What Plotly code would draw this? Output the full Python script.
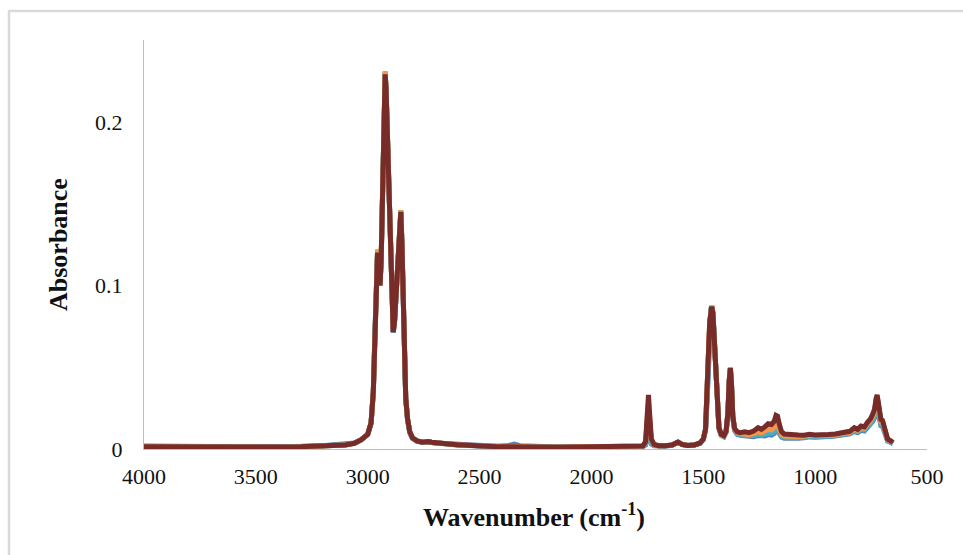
import plotly.graph_objects as go

# Wavenumber grid (cm-1), high to low
wavenumber = [
    # 4000-3100 baseline
    4000, 3900, 3800, 3700, 3600, 3500, 3400, 3300, 3200, 3100,
    # C-H stretching region
    3060, 3030, 3000, 2985, 2975, 2968, 2962, 2956, 2950, 2945,
    2940, 2934, 2928, 2922, 2918, 2912, 2906, 2900, 2894, 2886,
    2880, 2874, 2868, 2862, 2857, 2852, 2847, 2842, 2836, 2830,
    2822, 2812, 2800, 2780, 2755, 2730, 2715, 2700,
    # 2700-1790
    2660, 2600, 2540, 2480, 2420, 2370, 2345, 2320, 2250, 2150,
    2050, 1950, 1850, 1790,
    # carbonyl region
    1770, 1758, 1750, 1745, 1740, 1732, 1720, 1700, 1670, 1640,
    1613, 1595, 1570, 1540, 1515,
    # C-H bending region
    1500, 1490, 1483, 1477, 1471, 1466, 1462, 1457, 1451, 1445,
    1438, 1430, 1420, 1408, 1398, 1390, 1384, 1379, 1374, 1368,
    1360, 1348, 1335,
    # fingerprint 1315-910
    1315, 1295, 1275, 1255, 1240, 1225, 1210, 1195, 1183, 1175,
    1168, 1160, 1150, 1138, 1120, 1100, 1075, 1050, 1025, 1000,
    970, 940, 910,
    # 885-652
    885, 865, 845, 825, 810, 795, 780, 765, 752, 742,
    734, 728, 723, 718, 713, 706, 699, 692, 684, 676,
    668, 660, 652,
]

absorbance_1 = [
    0.0018, 0.0015, 0.0019, 0.0016, 0.0014, 0.0013, 0.0015, 0.0016, 0.0020, 0.0027,
    0.0036, 0.0056, 0.0088, 0.0155, 0.0345, 0.0695, 0.1048, 0.1210, 0.1085, 0.1004,
    0.1148, 0.1645, 0.2098, 0.2300, 0.2198, 0.1915, 0.1596, 0.1276, 0.0976, 0.0712,
    0.0777, 0.0927, 0.1097, 0.1278, 0.1412, 0.1455, 0.1248, 0.0898, 0.0515, 0.0305,
    0.0180, 0.0100, 0.0065, 0.0048, 0.0040, 0.0044, 0.0040, 0.0037,
    0.0034, 0.0027, 0.0021, 0.0018, 0.0017, 0.0022, 0.0030, 0.0020, 0.0014, 0.0012,
    0.0013, 0.0012, 0.0013, 0.0015,
    0.0017, 0.0025, 0.0075, 0.0100, 0.0070, 0.0030, 0.0020, 0.0018, 0.0019, 0.0023,
    0.0040, 0.0027, 0.0021, 0.0024, 0.0035,
    0.0057, 0.0116, 0.0295, 0.0575, 0.0776, 0.0856, 0.0866, 0.0826, 0.0676, 0.0466,
    0.0256, 0.0125, 0.0083, 0.0074, 0.0102, 0.0212, 0.0412, 0.0488, 0.0392, 0.0190,
    0.0112, 0.0090, 0.0084,
    0.0080, 0.0072, 0.0075, 0.0082, 0.0078, 0.0080, 0.0088, 0.0085, 0.0095, 0.0115,
    0.0112, 0.0090, 0.0072, 0.0066, 0.0064, 0.0064, 0.0066, 0.0068, 0.0074, 0.0072,
    0.0072, 0.0076, 0.0080,
    0.0084, 0.0086, 0.0092, 0.0108, 0.0100, 0.0114, 0.0110, 0.0132, 0.0148, 0.0170,
    0.0192, 0.0230, 0.0250, 0.0222, 0.0172, 0.0142, 0.0138, 0.0104, 0.0060, 0.0048,
    0.0044, 0.0038, 0.0032,
]

absorbance_2 = [
    0.0012, 0.0011, 0.0012, 0.0010, 0.0011, 0.0010, 0.0011, 0.0013, 0.0017, 0.0024,
    0.0034, 0.0054, 0.0089, 0.0158, 0.0348, 0.0702, 0.1055, 0.1220, 0.1086, 0.1003,
    0.1152, 0.1655, 0.2106, 0.2305, 0.2204, 0.1922, 0.1601, 0.1281, 0.0981, 0.0716,
    0.0781, 0.0932, 0.1103, 0.1284, 0.1415, 0.1460, 0.1253, 0.0902, 0.0521, 0.0309,
    0.0183, 0.0103, 0.0066, 0.0049, 0.0040, 0.0045, 0.0040, 0.0037,
    0.0032, 0.0025, 0.0019, 0.0015, 0.0013, 0.0013, 0.0014, 0.0012, 0.0011, 0.0010,
    0.0011, 0.0010, 0.0011, 0.0013,
    0.0018, 0.0033, 0.0128, 0.0180, 0.0122, 0.0042, 0.0024, 0.0019, 0.0020, 0.0024,
    0.0041, 0.0028, 0.0022, 0.0025, 0.0036,
    0.0059, 0.0119, 0.0299, 0.0580, 0.0782, 0.0864, 0.0874, 0.0834, 0.0682, 0.0470,
    0.0258, 0.0128, 0.0087, 0.0079, 0.0107, 0.0218, 0.0418, 0.0496, 0.0399, 0.0197,
    0.0120, 0.0100, 0.0094,
    0.0090, 0.0084, 0.0090, 0.0100, 0.0094, 0.0100, 0.0112, 0.0108, 0.0122, 0.0145,
    0.0142, 0.0112, 0.0084, 0.0076, 0.0074, 0.0073, 0.0075, 0.0076, 0.0082, 0.0079,
    0.0078, 0.0082, 0.0086,
    0.0090, 0.0092, 0.0099, 0.0118, 0.0109, 0.0126, 0.0122, 0.0148, 0.0166, 0.0192,
    0.0218, 0.0268, 0.0290, 0.0256, 0.0196, 0.0160, 0.0156, 0.0117, 0.0068, 0.0054,
    0.0050, 0.0043, 0.0036,
]

absorbance_3 = [
    0.0014, 0.0013, 0.0014, 0.0012, 0.0013, 0.0011, 0.0013, 0.0015, 0.0019, 0.0026,
    0.0035, 0.0055, 0.0090, 0.0159, 0.0349, 0.0698, 0.1046, 0.1195, 0.1077, 0.0998,
    0.1147, 0.1646, 0.2095, 0.2285, 0.2196, 0.1917, 0.1598, 0.1278, 0.0978, 0.0713,
    0.0778, 0.0928, 0.1098, 0.1277, 0.1406, 0.1445, 0.1247, 0.0898, 0.0519, 0.0309,
    0.0184, 0.0104, 0.0067, 0.0050, 0.0041, 0.0046, 0.0041, 0.0038,
    0.0033, 0.0026, 0.0020, 0.0016, 0.0014, 0.0015, 0.0017, 0.0014, 0.0012, 0.0011,
    0.0012, 0.0011, 0.0012, 0.0014,
    0.0018, 0.0038, 0.0168, 0.0240, 0.0162, 0.0050, 0.0026, 0.0020, 0.0020, 0.0024,
    0.0042, 0.0028, 0.0022, 0.0025, 0.0036,
    0.0060, 0.0120, 0.0300, 0.0580, 0.0779, 0.0859, 0.0868, 0.0829, 0.0679, 0.0469,
    0.0259, 0.0129, 0.0089, 0.0081, 0.0109, 0.0219, 0.0419, 0.0494, 0.0399, 0.0199,
    0.0123, 0.0103, 0.0097,
    0.0098, 0.0092, 0.0100, 0.0115, 0.0107, 0.0118, 0.0134, 0.0130, 0.0148, 0.0178,
    0.0174, 0.0132, 0.0096, 0.0085, 0.0081, 0.0079, 0.0080, 0.0080, 0.0086, 0.0083,
    0.0082, 0.0085, 0.0089,
    0.0095, 0.0097, 0.0105, 0.0126, 0.0116, 0.0135, 0.0131, 0.0160, 0.0179, 0.0208,
    0.0237, 0.0294, 0.0318, 0.0280, 0.0212, 0.0174, 0.0169, 0.0126, 0.0072, 0.0058,
    0.0053, 0.0046, 0.0039,
]

absorbance_4 = [
    0.0016, 0.0014, 0.0017, 0.0014, 0.0013, 0.0012, 0.0014, 0.0015, 0.0019, 0.0026,
    0.0036, 0.0056, 0.0089, 0.0157, 0.0346, 0.0697, 0.1049, 0.1205, 0.1082, 0.1001,
    0.1149, 0.1648, 0.2099, 0.2295, 0.2199, 0.1918, 0.1599, 0.1279, 0.0979, 0.0714,
    0.0779, 0.0929, 0.1099, 0.1280, 0.1411, 0.1452, 0.1249, 0.0899, 0.0518, 0.0307,
    0.0182, 0.0102, 0.0066, 0.0049, 0.0040, 0.0045, 0.0040, 0.0037,
    0.0033, 0.0025, 0.0020, 0.0016, 0.0015, 0.0016, 0.0019, 0.0015, 0.0013, 0.0012,
    0.0012, 0.0011, 0.0012, 0.0014,
    0.0017, 0.0030, 0.0100, 0.0140, 0.0095, 0.0036, 0.0022, 0.0019, 0.0019, 0.0023,
    0.0041, 0.0027, 0.0021, 0.0024, 0.0035,
    0.0058, 0.0118, 0.0297, 0.0577, 0.0778, 0.0859, 0.0869, 0.0828, 0.0678, 0.0467,
    0.0257, 0.0126, 0.0085, 0.0076, 0.0104, 0.0214, 0.0414, 0.0490, 0.0394, 0.0192,
    0.0115, 0.0093, 0.0087,
    0.0085, 0.0078, 0.0082, 0.0090, 0.0085, 0.0089, 0.0098, 0.0095, 0.0106, 0.0128,
    0.0125, 0.0100, 0.0078, 0.0071, 0.0069, 0.0068, 0.0070, 0.0072, 0.0078, 0.0075,
    0.0075, 0.0079, 0.0083,
    0.0087, 0.0089, 0.0095, 0.0113, 0.0104, 0.0120, 0.0116, 0.0140, 0.0157, 0.0181,
    0.0205, 0.0250, 0.0270, 0.0239, 0.0184, 0.0151, 0.0147, 0.0110, 0.0064, 0.0051,
    0.0047, 0.0040, 0.0034,
]

absorbance_5 = [
    0.0013, 0.0012, 0.0013, 0.0011, 0.0012, 0.0010, 0.0012, 0.0014, 0.0018, 0.0025,
    0.0035, 0.0055, 0.0090, 0.0161, 0.0352, 0.0704, 0.1056, 0.1215, 0.1084, 0.1002,
    0.1153, 0.1656, 0.2108, 0.2310, 0.2206, 0.1923, 0.1602, 0.1282, 0.0982, 0.0717,
    0.0782, 0.0933, 0.1104, 0.1285, 0.1416, 0.1458, 0.1254, 0.0903, 0.0522, 0.0311,
    0.0186, 0.0105, 0.0068, 0.0050, 0.0041, 0.0046, 0.0041, 0.0038,
    0.0034, 0.0026, 0.0021, 0.0017, 0.0014, 0.0014, 0.0016, 0.0014, 0.0012, 0.0012,
    0.0013, 0.0012, 0.0013, 0.0015,
    0.0018, 0.0041, 0.0195, 0.0280, 0.0188, 0.0055, 0.0027, 0.0020, 0.0020, 0.0024,
    0.0042, 0.0028, 0.0022, 0.0025, 0.0036,
    0.0059, 0.0119, 0.0299, 0.0580, 0.0783, 0.0865, 0.0876, 0.0835, 0.0683, 0.0471,
    0.0259, 0.0129, 0.0088, 0.0080, 0.0108, 0.0219, 0.0420, 0.0497, 0.0400, 0.0198,
    0.0121, 0.0101, 0.0095,
    0.0093, 0.0087, 0.0094, 0.0106, 0.0099, 0.0107, 0.0121, 0.0117, 0.0132, 0.0158,
    0.0155, 0.0120, 0.0089, 0.0080, 0.0077, 0.0075, 0.0077, 0.0078, 0.0084, 0.0081,
    0.0080, 0.0083, 0.0087,
    0.0093, 0.0095, 0.0102, 0.0122, 0.0113, 0.0131, 0.0127, 0.0155, 0.0173, 0.0200,
    0.0228, 0.0282, 0.0305, 0.0268, 0.0204, 0.0167, 0.0163, 0.0122, 0.0070, 0.0056,
    0.0052, 0.0045, 0.0038,
]

absorbance_6 = [
    0.0013, 0.0012, 0.0013, 0.0011, 0.0012, 0.0010, 0.0012, 0.0014, 0.0018, 0.0025,
    0.0035, 0.0055, 0.0090, 0.0160, 0.0350, 0.0700, 0.1050, 0.1200, 0.1080, 0.1000,
    0.1150, 0.1650, 0.2100, 0.2290, 0.2200, 0.1920, 0.1600, 0.1280, 0.0980, 0.0715,
    0.0780, 0.0930, 0.1100, 0.1280, 0.1410, 0.1450, 0.1250, 0.0900, 0.0520, 0.0310,
    0.0185, 0.0105, 0.0068, 0.0050, 0.0041, 0.0046, 0.0041, 0.0038,
    0.0033, 0.0026, 0.0020, 0.0016, 0.0014, 0.0014, 0.0015, 0.0013, 0.0012, 0.0011,
    0.0012, 0.0011, 0.0012, 0.0014,
    0.0018, 0.0045, 0.0230, 0.0330, 0.0220, 0.0060, 0.0028, 0.0020, 0.0020, 0.0024,
    0.0042, 0.0028, 0.0022, 0.0025, 0.0036,
    0.0060, 0.0120, 0.0300, 0.0580, 0.0780, 0.0860, 0.0870, 0.0830, 0.0680, 0.0470,
    0.0260, 0.0130, 0.0090, 0.0082, 0.0110, 0.0220, 0.0420, 0.0495, 0.0400, 0.0200,
    0.0125, 0.0105, 0.0100,
    0.0105, 0.0100, 0.0110, 0.0130, 0.0120, 0.0135, 0.0155, 0.0150, 0.0170, 0.0205,
    0.0200, 0.0150, 0.0105, 0.0092, 0.0088, 0.0085, 0.0085, 0.0084, 0.0090, 0.0086,
    0.0085, 0.0088, 0.0092,
    0.0098, 0.0100, 0.0108, 0.0130, 0.0120, 0.0140, 0.0135, 0.0165, 0.0185, 0.0215,
    0.0245, 0.0305, 0.0330, 0.0290, 0.0220, 0.0180, 0.0175, 0.0130, 0.0075, 0.0060,
    0.0055, 0.0048, 0.0040,
]

series = [absorbance_1, absorbance_2, absorbance_3, absorbance_4, absorbance_5, absorbance_6]
colors = ["#4F81BD", "#9BBB59", "#8064A2", "#4BACC6", "#F79646", "#772C2A"]

W, H = 963, 555
fig = go.Figure()
for ys, c in zip(series, colors):
    fig.add_trace(go.Scatter(
        x=wavenumber, y=ys, mode="lines",
        line=dict(color=c, width=5), showlegend=False, hoverinfo="skip",
    ))

serif = "Liberation Serif, Times New Roman, serif"
axis_common = dict(
    showgrid=False, zeroline=False, showline=True, automargin=False,
    linecolor="#BFBFBF", linewidth=1, ticks="",
    tickfont=dict(family=serif, size=22, color="#111111"),
)

fig.update_layout(
    template="none",
    width=W, height=H,
    margin=dict(l=0, r=0, t=0, b=0, pad=0),
    paper_bgcolor="white", plot_bgcolor="white",
    xaxis=dict(
        range=[4000, 500], tickmode="linear", tick0=500, dtick=500,
        domain=[144 / W, 927 / W], ticklabelstandoff=8, **axis_common,
    ),
    yaxis=dict(
        range=[0, 0.25], tickmode="linear", tick0=0, dtick=0.1,
        domain=[1 - 449 / H, 1 - 40 / H], ticklabelstandoff=16, **axis_common,
    ),
    annotations=[
        dict(
            text="<b>Wavenumber (cm<sup>-1</sup>)</b>",
            xref="paper", yref="paper", x=534 / W, y=1 - 515 / H,
            xanchor="center", yanchor="middle", showarrow=False,
            font=dict(family=serif, size=26, color="#111111"),
        ),
        dict(
            text="<b>Absorbance</b>", textangle=-90,
            xref="paper", yref="paper", x=59 / W, y=1 - 245 / H,
            xanchor="center", yanchor="middle", showarrow=False,
            font=dict(family=serif, size=26, color="#111111"),
        ),
    ],
    shapes=[
        dict(
            type="rect", xref="paper", yref="paper",
            x0=9 / W, y0=-0.05, x1=1.05, y1=1 - 11 / H,
            line=dict(color="#D9D9D9", width=2.5), layer="below",
        )
    ],
)

fig.write_html("out.html")
